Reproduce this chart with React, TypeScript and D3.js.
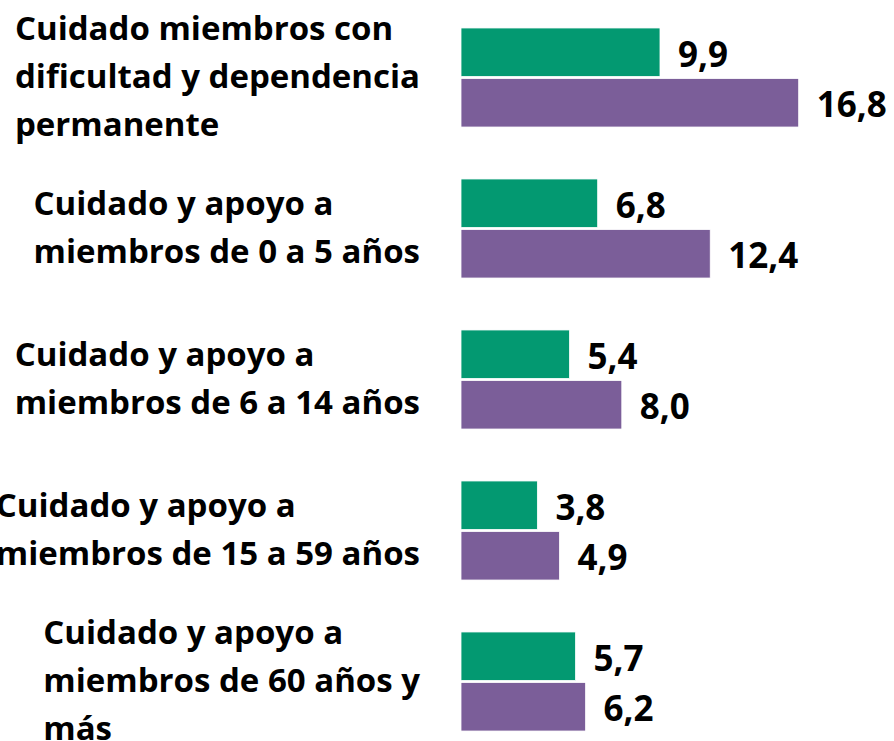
import React, { useEffect, useRef } from "react";
import * as d3 from "d3";

// categories, each split in the lines shown on the chart
const categories = [
  "Cuidado miembros con dificultad y dependencia permanente",
  "Cuidado y apoyo a miembros de 0 a 5 años",
  "Cuidado y apoyo a miembros de 6 a 14 años",
  "Cuidado y apoyo a miembros de 15 a 59 años",
  "Cuidado y apoyo a miembros de 60 años y más",
];
const categoryLines = [
  ["Cuidado miembros con", "dificultad y dependencia", "permanente"],
  ["Cuidado y apoyo a", "miembros de 0 a 5 años"],
  ["Cuidado y apoyo a", "miembros de 6 a 14 años"],
  ["Cuidado y apoyo a", "miembros de 15 a 59 años"],
  ["Cuidado y apoyo a", "miembros de 60 años y", "más"],
];
const seriesNames = ["Hombres", "Mujeres"];
const hombres = [9.9, 6.8, 5.4, 3.8, 5.7];
const mujeres = [16.8, 12.4, 8.0, 4.9, 6.2];
const seriesColors = ["#039971", "#7b5e99"];

const W = 894;
const H = 741;
const FONT = "'Open Sans', sans-serif";

export default function App() {
  const svgRef = useRef<SVGSVGElement>(null);

  useEffect(() => {
    const svg = d3.select(svgRef.current);
    svg.selectAll("*").remove();

    const y0 = d3
      .scaleBand()
      .domain(categories)
      .range([2, 757])
      .paddingInner(0.344)
      .paddingOuter(0.172);

    const y1 = d3
      .scaleBand()
      .domain(seriesNames)
      .range([0, y0.bandwidth()])
      .paddingInner(0.04);

    const x = d3.scaleLinear().domain([0, 17]).range([461, 461 + 17 * 20.1]);

    const color = d3.scaleOrdinal<string, string>().domain(seriesNames).range(seriesColors);

    const rows = categories.map((c, i) => ({
      cat: c,
      lines: categoryLines[i],
      vals: [
        { name: seriesNames[0], value: hombres[i] },
        { name: seriesNames[1], value: mujeres[i] },
      ],
    }));

    const groups = svg
      .selectAll("g.cat")
      .data(rows)
      .enter()
      .append("g")
      .attr("class", "cat")
      .attr("transform", (d) => `translate(0,${y0(d.cat)})`);

    groups
      .selectAll("rect")
      .data((d) => d.vals)
      .enter()
      .append("rect")
      .attr("x", x(0))
      .attr("y", (d) => y1(d.name)!)
      .attr("width", (d) => x(d.value) - x(0))
      .attr("height", y1.bandwidth())
      .attr("fill", (d) => color(d.name))
      .attr("stroke", "#ffffff")
      .attr("stroke-width", 0.8);

    groups
      .selectAll("text.val")
      .data((d) => d.vals)
      .enter()
      .append("text")
      .attr("class", "val")
      .attr("x", (d) => x(d.value) + 18)
      .attr("y", (d) => y1(d.name)! + y1.bandwidth() / 2 + 14.5)
      .attr("font-family", FONT)
      .attr("font-weight", 700)
      .attr("font-size", 35)
      .attr("fill", "#000")
      .text((d) => d3.format(".1f")(d.value).replace(".", ","));

    // category labels: left aligned block, longest line ending at 420
    const lineH = 48;
    groups.each(function (d) {
      const g = d3.select(this);
      const cy = y0.bandwidth() / 2;
      const n = d.lines.length;
      const t = g
        .append("text")
        .attr("font-family", FONT)
        .attr("font-weight", 700)
        .attr("font-size", 33)
        .attr("fill", "#000");
      t.selectAll("tspan")
        .data(d.lines)
        .enter()
        .append("tspan")
        .attr("y", (_, i) => cy + (i - (n - 1) / 2) * lineH + 10.5)
        .text((l) => l);
      let maxW = 0;
      t.selectAll<SVGTSpanElement, string>("tspan").each(function () {
        maxW = Math.max(maxW, this.getComputedTextLength());
      });
      t.selectAll("tspan").attr("x", 420 - maxW);
    });
  }, []);

  return (
    <svg
      ref={svgRef}
      width={W}
      height={H}
      style={{ position: "absolute", left: 0, top: 0, background: "#fff" }}
    />
  );
}
